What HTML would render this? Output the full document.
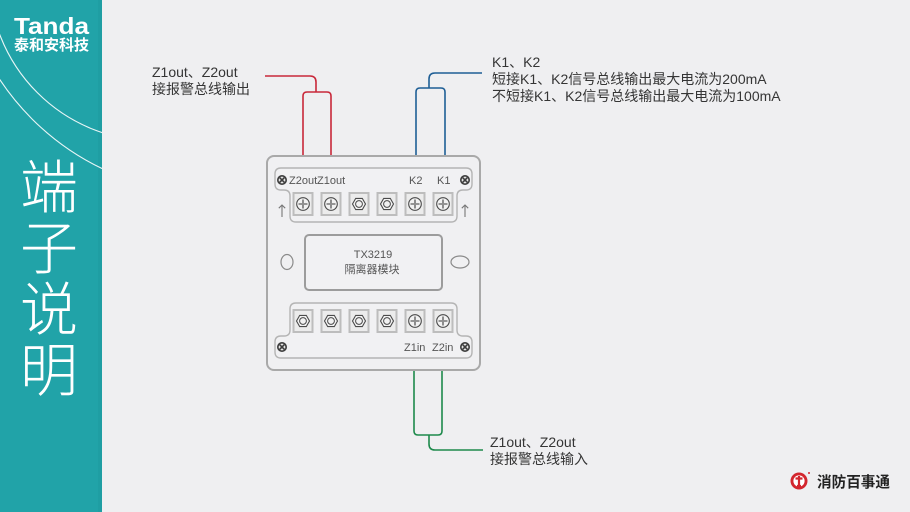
<!DOCTYPE html>
<html>
<head>
<meta charset="utf-8">
<style>
  html,body{margin:0;padding:0;}
  body{width:910px;height:512px;overflow:hidden;background:#efeff1;}
  svg{display:block;}
  .t{font-family:"Liberation Sans","Noto Sans CJK SC",sans-serif;}
</style>
</head>
<body>
<svg width="910" height="512" viewBox="0 0 910 512" xmlns="http://www.w3.org/2000/svg">
  <defs>
    <clipPath id="pc"><rect x="0" y="0" width="102" height="512"/></clipPath>
    <g id="ph">
      <rect x="-9.5" y="-11" width="19" height="22" fill="#ececec" stroke="#bdbdbd" stroke-width="2"/>
      <circle cx="0" cy="0" r="6.3" fill="#f2f2f2" stroke="#4a4a4a" stroke-width="1.1"/>
      <path d="M-4.5 0 H4.5 M0 -4.5 V4.5" stroke="#4a4a4a" stroke-width="1.6"/>
      <path d="M-4.5 0 H4.5 M0 -4.5 V4.5" stroke="#f2f2f2" stroke-width="0.4"/>
    </g>
    <g id="hx">
      <rect x="-9.5" y="-11" width="19" height="22" fill="#ececec" stroke="#bdbdbd" stroke-width="2"/>
      <polygon points="-6.5,0 -3.3,-5.6 3.3,-5.6 6.5,0 3.3,5.6 -3.3,5.6" fill="#f2f2f2" stroke="#4a4a4a" stroke-width="1.1"/>
      <circle cx="0" cy="0" r="3.4" fill="none" stroke="#4a4a4a" stroke-width="1"/>
    </g>
    <g id="xs">
      <circle cx="0" cy="0" r="5" fill="#3c3c3c"/>
      <circle cx="0" cy="0" r="3.4" fill="#e6e6e6"/>
      <path d="M-2.4 -2.4 L2.4 2.4 M2.4 -2.4 L-2.4 2.4" stroke="#3c3c3c" stroke-width="1.6"/>
    </g>
    <g id="ar">
      <path d="M0 -6 V6 M-3.2 -2.8 L0 -6 L3.2 -2.8" stroke="#777" stroke-width="1.1" fill="none"/>
    </g>
  </defs>

  <!-- left teal panel -->
  <rect x="0" y="0" width="102" height="512" fill="#21a3a8"/>
  <rect x="98" y="0" width="4" height="512" fill="#1f9ea3"/>
  <g clip-path="url(#pc)" fill="none" stroke="#ffffff" stroke-width="1.1" opacity="0.9">
    <circle cx="154" cy="-24" r="165"/>
    <circle cx="212" cy="-61" r="254.5"/>
  </g>
  <text class="t" x="14" y="34" font-size="23" font-weight="bold" fill="#ffffff" textLength="75" lengthAdjust="spacingAndGlyphs">Tanda</text>
  <text class="t" x="14" y="50" font-size="15" font-weight="bold" fill="#ffffff" textLength="75" lengthAdjust="spacingAndGlyphs">泰和安科技</text>
  <g class="t" font-size="58" font-weight="300" fill="#ffffff" text-anchor="middle">
    <text x="49" y="208">端</text>
    <text x="49" y="269">子</text>
    <text x="49" y="330">说</text>
    <text x="49" y="391">明</text>
  </g>

  <!-- wires -->
  <g fill="none" stroke-width="1.6">
    <path d="M265 76 H310 Q316 76 316 82 V92" stroke="#c9283a"/>
    <path d="M303 156 V96 Q303 92 307 92 H327 Q331 92 331 96 V156" stroke="#c9283a"/>
    <path d="M482 73 H435 Q429 73 429 79 V88" stroke="#1f5f96"/>
    <path d="M416 156 V92 Q416 88 420 88 H441 Q445 88 445 92 V156" stroke="#1f5f96"/>
    <path d="M414 370 V431 Q414 435 418 435 H438 Q442 435 442 431 V370" stroke="#1e8a4c"/>
    <path d="M429 435 V444 Q429 450 435 450 H483" stroke="#1e8a4c"/>
  </g>

  <!-- module box -->
  <rect x="267" y="156" width="213" height="214" rx="7" fill="#f0f0f2" stroke="#a9a9a9" stroke-width="2"/>
  <path d="M281 168 H466 Q472 168 472 174 V184 Q472 190 466 190 H463 Q457 190 457 196 V216 Q457 222 451 222 H296 Q290 222 290 216 V196 Q290 190 284 190 H281 Q275 190 275 184 V174 Q275 168 281 168 Z" fill="#f1f1f3" stroke="#b4b4b4" stroke-width="1.4"/>
  <path d="M296 303 H451 Q457 303 457 309 V330 Q457 336 463 336 H466 Q472 336 472 342 V352 Q472 358 466 358 H281 Q275 358 275 352 V342 Q275 336 281 336 H284 Q290 336 290 330 V309 Q290 303 296 303 Z" fill="#f1f1f3" stroke="#b4b4b4" stroke-width="1.4"/>
  <rect x="305" y="235" width="137" height="55" rx="4" fill="#f1f1f3" stroke="#9c9c9c" stroke-width="2"/>
  <ellipse cx="287" cy="262" rx="6" ry="7.5" fill="none" stroke="#8a8a8a" stroke-width="1.2"/>
  <ellipse cx="460" cy="262" rx="9" ry="6" fill="none" stroke="#8a8a8a" stroke-width="1.2"/>

  <!-- top screws -->
  <use href="#ph" x="303" y="204"/>
  <use href="#ph" x="331" y="204"/>
  <use href="#hx" x="359" y="204"/>
  <use href="#hx" x="387" y="204"/>
  <use href="#ph" x="415" y="204"/>
  <use href="#ph" x="443" y="204"/>
  <!-- bottom screws -->
  <use href="#hx" x="303" y="321"/>
  <use href="#hx" x="331" y="321"/>
  <use href="#hx" x="359" y="321"/>
  <use href="#hx" x="387" y="321"/>
  <use href="#ph" x="415" y="321"/>
  <use href="#ph" x="443" y="321"/>

  <use href="#xs" x="282" y="180"/>
  <use href="#xs" x="465" y="180"/>
  <use href="#xs" x="282" y="347"/>
  <use href="#xs" x="465" y="347"/>
  <use href="#ar" x="282" y="211"/>
  <use href="#ar" x="465" y="211"/>

  <g class="t" font-size="11" fill="#555">
    <text x="289" y="184">Z2out</text>
    <text x="317" y="184">Z1out</text>
    <text x="409" y="184">K2</text>
    <text x="437" y="184">K1</text>
    <text x="404" y="351">Z1in</text>
    <text x="432" y="351">Z2in</text>
    <text x="373" y="258" text-anchor="middle">TX3219</text>
    <text x="372" y="273" text-anchor="middle">隔离器模块</text>
  </g>

  <!-- annotations -->
  <g class="t" font-size="14" fill="#353535">
    <text x="152" y="77">Z1out、Z2out</text>
    <text x="152" y="94">接报警总线输出</text>
    <text x="492" y="67">K1、K2</text>
    <text x="492" y="84">短接K1、K2信号总线输出最大电流为200mA</text>
    <text x="492" y="101">不短接K1、K2信号总线输出最大电流为100mA</text>
    <text x="490" y="447">Z1out、Z2out</text>
    <text x="490" y="464">接报警总线输入</text>
  </g>

  <!-- logo -->
  <circle cx="799" cy="481" r="8.5" fill="#d3262e"/>
  <circle cx="799" cy="481" r="5.6" fill="#ffffff"/>
  <path d="M795.5 478.5 H802.5 M799 476 V486 M797 486 H801" stroke="#d3262e" stroke-width="2.2" fill="none"/>
  <circle cx="809" cy="473" r="1" fill="#d3262e"/>
  <text class="t" x="817" y="487" font-size="15" font-weight="bold" fill="#222" textLength="73" lengthAdjust="spacingAndGlyphs">消防百事通</text>
</svg>
</body>
</html>
